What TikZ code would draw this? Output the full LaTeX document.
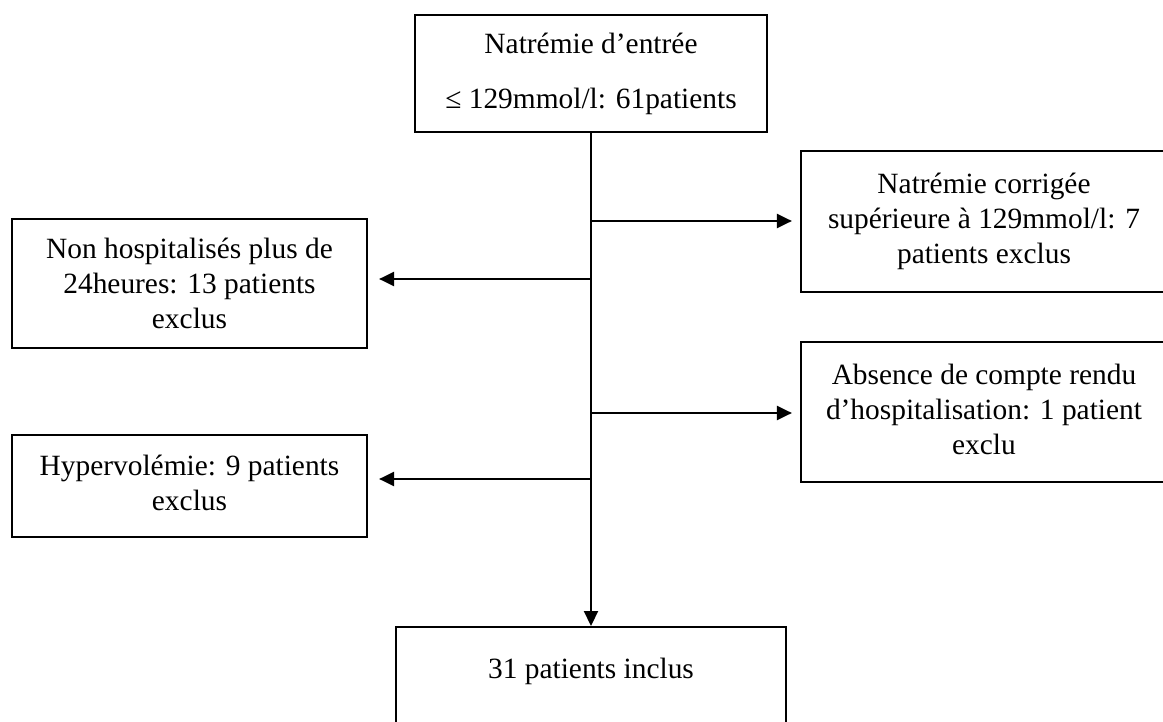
\documentclass[tikz,border=0pt]{standalone}
\usepackage{fontspec}
\setmainfont{Liberation Serif}
\usetikzlibrary{arrows.meta}
\begin{document}
\begin{tikzpicture}[x=1pt,y=-1pt,
  box/.style={draw, line width=2.2pt, align=center, inner sep=0pt,
    font=\fontsize{29.4}{35}\selectfont},
  conn/.style={line width=2.2pt, -{Triangle[length=15pt,width=14pt]}}]
\useasboundingbox (0,0) rectangle (1163,722);
\node[box, minimum width=352, minimum height=117] (top) at (591,73.5)
  {Natrémie d’entrée\\[20pt]≤ 129mmol/l: 61patients};
\node[box, minimum width=366, minimum height=141] (r1) at (984,221.5)
  {\raisebox{5pt}{\begin{tabular}{@{}c@{}}Natrémie corrigée\\supérieure à 129mmol/l: 7\\patients exclus\end{tabular}}};
\node[box, minimum width=355, minimum height=129] (l1) at (189.5,283.5)
  {Non hospitalisés plus de\\24heures: 13 patients\\exclus};
\node[box, minimum width=366, minimum height=140] (r2) at (984,412)
  {\raisebox{4pt}{\begin{tabular}{@{}c@{}}Absence de compte rendu\\d’hospitalisation: 1 patient\\exclu\end{tabular}}};
\node[box, minimum width=355, minimum height=102] (l2) at (189.5,486)
  {\raisebox{3pt}{\begin{tabular}{@{}c@{}}Hypervolémie: 9 patients\\exclus\end{tabular}}};
\node[box, anchor=north, minimum width=390, text height=51pt, text depth=45pt] (inc) at (591,626)
  {31 patients inclus};
\coordinate (b1) at (top.south |- 0,221);
\coordinate (b2) at (top.south |- 0,279);
\coordinate (b3) at (top.south |- 0,413);
\coordinate (b4) at (top.south |- 0,479);
\draw[conn] (top.south) -- (inc.north);
\draw[conn, shorten >=8pt] (b1) -- (r1.west |- b1);
\draw[conn, shorten >=11pt] (b2) -- (l1.east |- b2);
\draw[conn, shorten >=8pt] (b3) -- (r2.west |- b3);
\draw[conn, shorten >=11pt] (b4) -- (l2.east |- b4);
\end{tikzpicture}
\end{document}
